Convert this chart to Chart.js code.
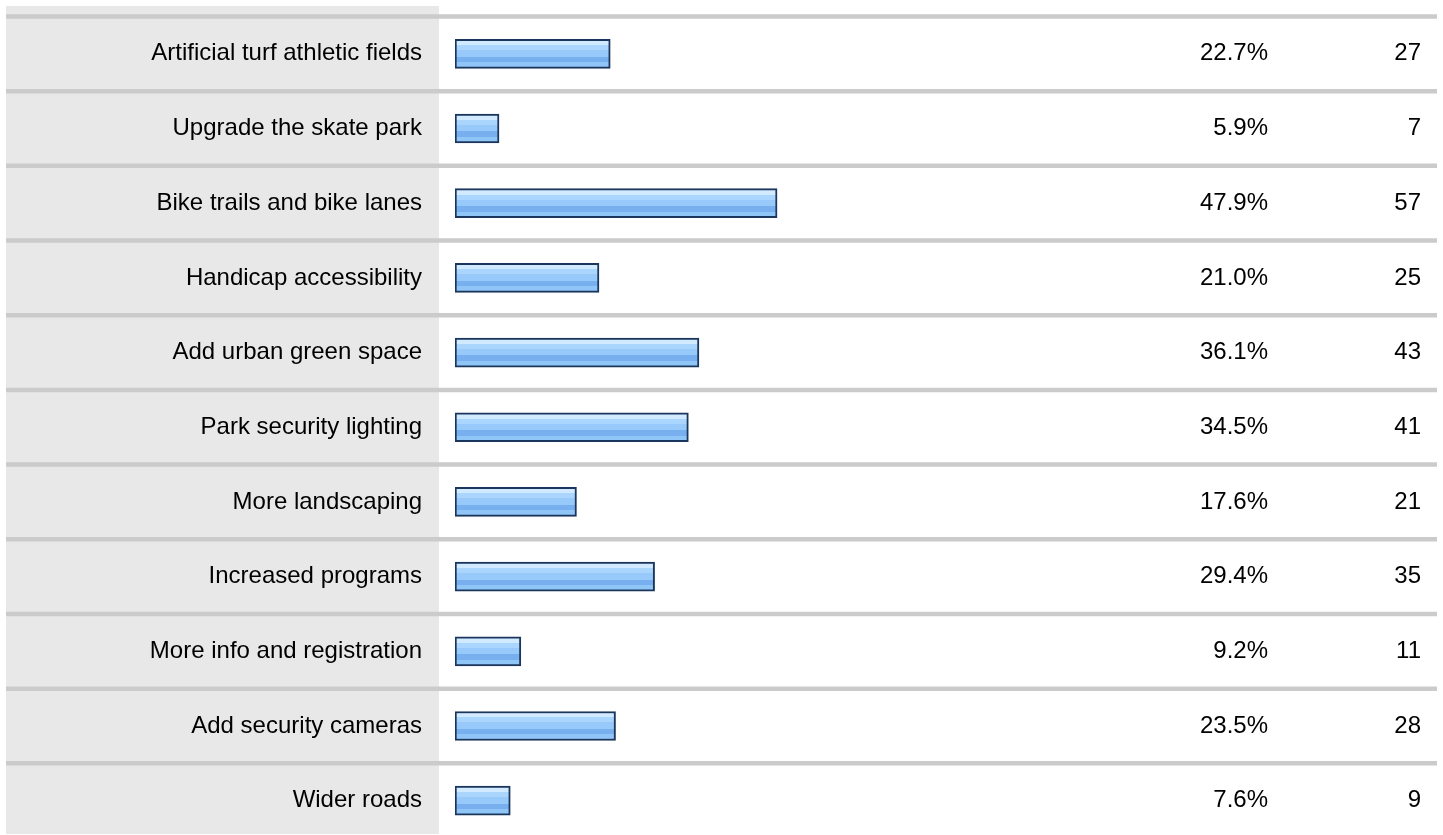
<!DOCTYPE html>
<html>
<head>
<meta charset="utf-8">
<script src="https://cdn.jsdelivr.net/npm/chart.js@4"></script>
<style>
  html, body { margin: 0; padding: 0; background: #fff; overflow: hidden; width: 1443px; height: 835px; }
  canvas { display: block; }
</style>
</head>
<body>
<canvas id="grafico" width="1443" height="840"></canvas>
<script>
// datos de la tabla
const opciones = [
    "Artificial turf athletic fields",
    "Upgrade the skate park",
    "Bike trails and bike lanes",
    "Handicap accessibility",
    "Add urban green space",
    "Park security lighting",
    "More landscaping",
    "Increased programs",
    "More info and registration",
    "Add security cameras",
    "Wider roads"
];
const porcentajes = [22.7, 5.9, 47.9, 21.0, 36.1, 34.5, 17.6, 29.4, 9.2, 23.5, 7.6];
const respuestas = [27, 7, 57, 25, 43, 41, 21, 35, 11, 28, 9];

const etiquetasPorcentaje = porcentajes.map(p => p.toFixed(1) + "%");
const etiquetasRespuestas = respuestas.map(r => String(r));

const fuente = { family: "'Liberation Sans', Arial, sans-serif", size: 24 };
const inicioEje = -0.75;

function degradadoBarra(context) {
    const chart = context.chart;
    if (!chart.chartArea) return "#96c9fa";
    const cy = chart.scales.y.getPixelForValue(context.dataIndex) + 1.5;
    const g = chart.ctx.createLinearGradient(0, cy - 14, 0, cy + 14);
    g.addColorStop(0, "#d2eaff");
    g.addColorStop(0.14, "#d2eaff");
    g.addColorStop(0.14, "#aad5fc");
    g.addColorStop(0.32, "#aad5fc");
    g.addColorStop(0.32, "#97cafa");
    g.addColorStop(0.55, "#97cafa");
    g.addColorStop(0.55, "#78b0ef");
    g.addColorStop(0.75, "#78b0ef");
    g.addColorStop(0.75, "#90c5f7");
    g.addColorStop(1, "#90c5f7");
    return g;
}

// fondo gris y lineas separadoras
const fondoTabla = {
    id: "fondoTabla",
    beforeDraw(chart) {
        const ctx = chart.ctx;
        const y = chart.scales.y;
        ctx.save();
        ctx.fillStyle = "#e8e8e8";
        ctx.fillRect(6, 6, 433, 828);
        ctx.strokeStyle = "#cbcbcb";
        ctx.lineWidth = 4.5;
        for (let i = 0; i <= opciones.length; i++) {
            const py = y.getPixelForValue(i - 0.5);
            ctx.beginPath();
            ctx.moveTo(6, py);
            ctx.lineTo(1437, py);
            ctx.stroke();
        }
        ctx.restore();
    }
};

function fijarAncho(ancho) {
    return function (scale) {
        scale.width = ancho;
        scale.paddingTop = 0;
        scale.paddingBottom = 0;
    };
}

new Chart(document.getElementById("grafico"), {
    type: "bar",
    data: {
        labels: opciones,
        datasets: [{
            data: porcentajes,
            base: inicioEje,
            backgroundColor: degradadoBarra,
            borderColor: "#1b365d",
            borderWidth: 2,
            borderSkipped: false,
            barThickness: 29
        }]
    },
    options: {
        indexAxis: "y",
        responsive: false,
        animation: false,
        devicePixelRatio: 1,
        layout: { padding: { top: 16.5, bottom: 2, left: 0, right: 22 } },
        plugins: { legend: { display: false }, tooltip: { enabled: false } },
        scales: {
            x: { display: false, min: inicioEje, max: 100.76 },
            y: {
                position: "left",
                grid: { display: false, drawTicks: false },
                border: { display: false },
                ticks: { color: "#000", font: fuente, padding: 33 },
                afterFit: fijarAncho(455)
            },
            yPct: {
                type: "category",
                labels: etiquetasPorcentaje,
                position: "right",
                offset: true,
                grid: { display: false, drawTicks: false },
                border: { display: false },
                ticks: { color: "#000", font: fuente, padding: 0, crossAlign: "far" },
                afterFit: fijarAncho(141)
            },
            yCnt: {
                type: "category",
                labels: etiquetasRespuestas,
                position: "right",
                offset: true,
                grid: { display: false, drawTicks: false },
                border: { display: false },
                ticks: { color: "#000", font: fuente, padding: 0, crossAlign: "far" },
                afterFit: fijarAncho(153)
            }
        }
    },
    plugins: [fondoTabla]
});
</script>
</body>
</html>
